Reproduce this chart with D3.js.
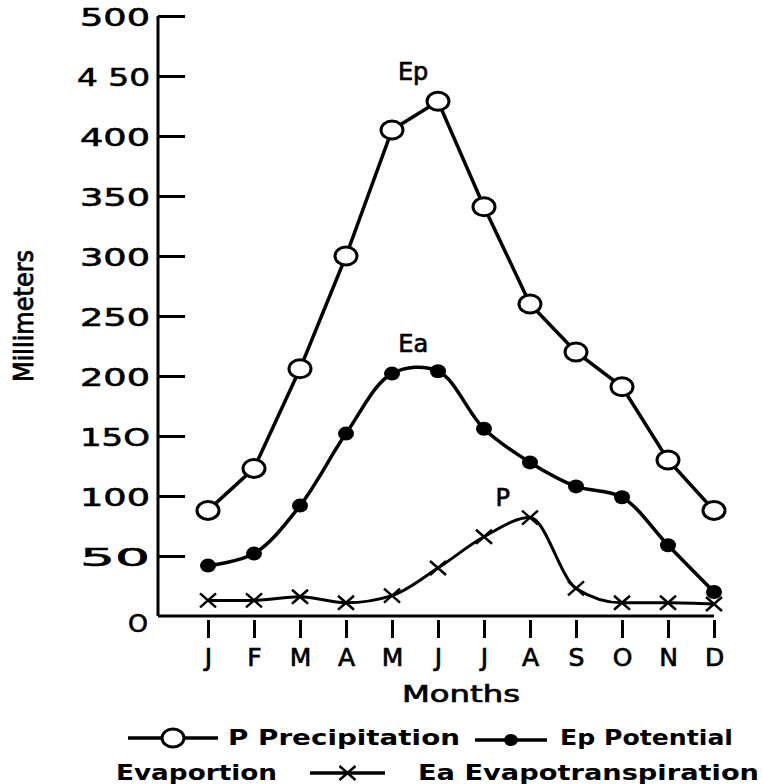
<!DOCTYPE html>
<html>
<head>
<meta charset="utf-8">
<script src="https://cdn.jsdelivr.net/npm/d3@7"></script>
<style>
  html, body { margin: 0; padding: 0; background: #fff; }
  svg { display: block; }
</style>
</head>
<body>
<div id="chart"></div>
<script>
// values
const months = ["Jan", "Feb", "Mar", "Apr", "May", "Jun", "Jul", "Aug", "Sep", "Oct", "Nov", "Dec"];
const monthLabels = ["J", "F", "M", "A", "M", "J", "J", "A", "S", "O", "N", "D"];
const epValues = [88, 123, 206, 300, 405, 429, 341, 260, 220, 191, 130, 88];
const eaValues = [42, 52, 92, 152, 202, 204, 156, 128, 108, 99, 59, 20];
const pValues = [13, 13, 16, 11, 17, 40, 66, 82, 23, 11, 11, 10];
const yTicks = [0, 50, 100, 150, 200, 250, 300, 350, 400, 450, 500];
const yTickLabels = ["O", "50", "100", "15O", "200", "250", "300", "350", "400", "4 50", "500"];
const curveLabels = [
    { text: "Ep", month: "Jun", value: 429, at: -0.54, dy: -21 },
    { text: "Ea", month: "May", value: 202, at: 0.46, dy: -22 },
    { text: "P", month: "Aug", value: 82, at: -0.59, dy: -12 }
];

const Chart = (() => {
    const width = 762;
    const height = 784;
    const axisX = 158;
    const font = "'DejaVu Sans', sans-serif";

    const svg = d3.select("#chart")
        .append("svg")
        .attr("width", width)
        .attr("height", height)
        .attr("font-family", font);

    const x = d3.scalePoint().domain(months).range([208, 714]);
    const step = x.step();
    const y = d3.scaleLinear().domain([0, 500]).range([616, 16]);

    function render() {
        _axes();
        _series();
        _labels();
        _legend();
    }

    // thicken thin glyphs a bit, the plate is inked heavily
    function _ink(sel, w) {
        sel.attr("stroke", "#000").attr("stroke-width", w).attr("paint-order", "stroke");
    }

    function _axes() {
        const yAxis = svg.append("g")
            .attr("transform", `translate(${axisX},0)`)
            .call(d3.axisLeft(y)
                .tickValues(yTicks.slice(1))
                .tickSize(-27)
                .tickSizeOuter(0)
                .tickPadding(8)
                .tickFormat(d => yTickLabels[yTicks.indexOf(d)]));
        yAxis.select(".domain")
            .attr("d", `M0,${y(0)}V${y(500)}`)
            .attr("stroke-width", 3);
        yAxis.selectAll(".tick line").attr("stroke-width", 3);
        yAxis.selectAll(".tick text")
            .attr("font-size", 25)
            .attr("font-family", font)
            .attr("fill", "#000")
            .attr("dy", "0.36em")
            .attr("textLength", d => d === 450 ? 73 : 70)
            .attr("lengthAdjust", "spacingAndGlyphs")
            .call(_ink, 0.6);

        // zero label sits under the corner
        svg.append("text")
            .attr("x", axisX - 10)
            .attr("y", y(0) + 7)
            .attr("dy", "0.36em")
            .attr("text-anchor", "end")
            .attr("font-size", 25)
            .attr("textLength", 20)
            .attr("lengthAdjust", "spacingAndGlyphs")
            .text(yTickLabels[0])
            .call(_ink, 0.6);

        const xAxis = svg.append("g")
            .attr("transform", `translate(0,${y(0)})`)
            .call(d3.axisBottom(x)
                .tickSize(22)
                .tickSizeOuter(0)
                .tickPadding(7)
                .tickFormat((d, i) => monthLabels[i]));
        xAxis.select(".domain")
            .attr("d", `M${axisX},0H${x("Dec")}`)
            .attr("stroke-width", 3);
        xAxis.selectAll(".tick line")
            .attr("y1", 4)
            .attr("stroke-width", 3);
        xAxis.selectAll(".tick text")
            .attr("font-size", 25)
            .attr("font-family", font)
            .attr("fill", "#000")
            .attr("dy", "0.85em")
            .call(_ink, 0.7);

        svg.append("text")
            .attr("x", (x("Jan") + x("Dec")) / 2)
            .attr("y", 702)
            .attr("text-anchor", "middle")
            .attr("font-size", 23)
            .attr("textLength", 118)
            .attr("lengthAdjust", "spacingAndGlyphs")
            .text("Months")
            .call(_ink, 0.7);

        svg.append("text")
            .attr("transform", `translate(33,${(y(0) + y(500)) / 2}) rotate(-90)`)
            .attr("text-anchor", "middle")
            .attr("font-family", "'Liberation Sans Narrow', 'DejaVu Sans Condensed', sans-serif")
            .attr("font-size", 27)
            .attr("textLength", 132)
            .attr("lengthAdjust", "spacingAndGlyphs")
            .text("Millimeters")
            .call(_ink, 0.8);
    }

    function _line(values, curve) {
        return d3.line()
            .x((d, i) => x(months[i]))
            .y(d => y(d))
            .curve(curve)(values);
    }

    function _series() {
        svg.append("path")
            .attr("d", _line(epValues, d3.curveLinear))
            .attr("fill", "none")
            .attr("stroke", "#000")
            .attr("stroke-width", 3.5);
        svg.append("path")
            .attr("d", _line(eaValues, d3.curveCatmullRom.alpha(0.5)))
            .attr("fill", "none")
            .attr("stroke", "#000")
            .attr("stroke-width", 3.5);
        svg.append("path")
            .attr("d", _line(pValues, d3.curveMonotoneX))
            .attr("fill", "none")
            .attr("stroke", "#000")
            .attr("stroke-width", 3);

        svg.append("g").selectAll("ellipse")
            .data(epValues)
            .join("ellipse")
            .attr("cx", (d, i) => x(months[i]))
            .attr("cy", d => y(d))
            .call(_openMarker);

        svg.append("g").selectAll("ellipse")
            .data(eaValues)
            .join("ellipse")
            .attr("cx", (d, i) => x(months[i]))
            .attr("cy", d => y(d))
            .call(_dotMarker);

        svg.append("g").selectAll("path")
            .data(pValues)
            .join("path")
            .attr("transform", (d, i) => `translate(${x(months[i])},${y(d)})`)
            .call(_crossMarker);
    }

    function _openMarker(sel) {
        sel.attr("rx", 11).attr("ry", 9)
            .attr("fill", "#fff")
            .attr("stroke", "#000")
            .attr("stroke-width", 3);
    }

    function _dotMarker(sel) {
        sel.attr("rx", 8).attr("ry", 7).attr("fill", "#000");
    }

    function _crossMarker(sel) {
        sel.attr("d", "M-8,-7L8,7M-8,7L8,-7")
            .attr("fill", "none")
            .attr("stroke", "#000")
            .attr("stroke-width", 2.5);
    }

    function _labels() {
        svg.append("g").selectAll("text")
            .data(curveLabels)
            .join("text")
            .attr("x", d => x(d.month) + d.at * step)
            .attr("y", d => y(d.value) + d.dy)
            .attr("text-anchor", "middle")
            .attr("font-size", 24)
            .text(d => d.text)
            .call(_ink, 0.7);
    }

    function _legend() {
        const g = svg.append("g")
            .attr("font-weight", "bold")
            .attr("font-size", 22);

        const sym = (x1, x2, cy, marker) => {
            g.append("line")
                .attr("x1", x1).attr("x2", x2)
                .attr("y1", cy).attr("y2", cy)
                .attr("stroke", "#000")
                .attr("stroke-width", 3.5);
            const cx = (x1 + x2) / 2;
            if (marker === "open") g.append("ellipse").attr("cx", cx).attr("cy", cy).call(_openMarker);
            if (marker === "dot") g.append("ellipse").attr("cx", cx).attr("cy", cy).attr("rx", 7).attr("ry", 6).attr("fill", "#000");
            if (marker === "cross") g.append("path").attr("transform", `translate(${cx},${cy})`).call(_crossMarker);
        };
        const label = (tx, ty, len, str) => {
            g.append("text")
                .attr("x", tx).attr("y", ty)
                .attr("textLength", len)
                .attr("lengthAdjust", "spacingAndGlyphs")
                .text(str);
        };

        sym(128, 218, 738, "open");
        label(228, 745, 232, "P Precipitation");
        sym(475, 547, 740, "dot");
        label(560, 745, 173, "Ep Potential");
        label(116, 780, 161, "Evaportion");
        sym(310, 385, 773, "cross");
        label(418, 780, 341, "Ea Evapotranspiration");
    }

    return { render };
})();

Chart.render();
</script>
</body>
</html>
